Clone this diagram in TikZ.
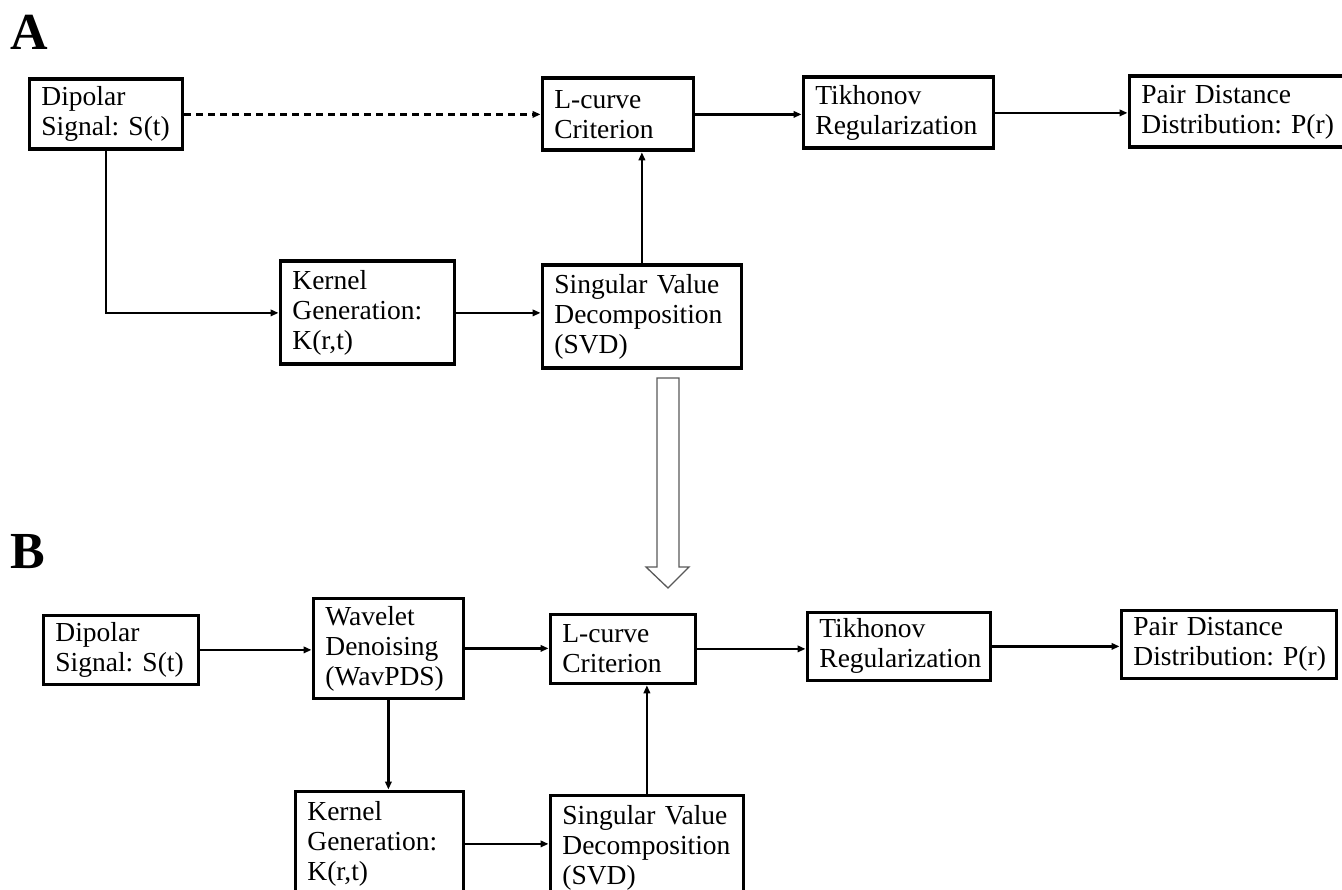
\documentclass[tikz,border=0pt]{standalone}
\usepackage{fontspec}
\setmainfont{Liberation Serif}
\usetikzlibrary{arrows.meta}
% one unbreakable line of box text
\newcommand{\boxline}[1]{\mbox{#1}}
\frenchspacing
\begin{document}
\begin{tikzpicture}[x=1pt,y=-1pt,
  blk/.style={draw, line width=3.8pt, inner xsep=12pt, inner ysep=0pt,
    align=left, anchor=north west,
    font=\fontsize{27.5}{30}\selectfont},
  conn/.style={line width=2.6pt, -{Triangle[length=8pt,width=6.5pt]}},
  dconn/.style={conn, dash pattern=on 7pt off 5pt},
  panel/.style={font=\fontsize{52}{52}\selectfont\bfseries, anchor=base west, inner sep=0pt},
  bigarrow/.style={draw=black!65, line width=1.3pt, fill=white}]
\useasboundingbox (0,0) rectangle (1342,890);

% panel letters
\node[panel] (labA) at (10,50) {A};
\node[panel] (labB) at (10,568) {B};

% ---- panel A ----
\node[blk, minimum width=153, minimum height=70, text width=129] (dipA) at (27.5,77.5) {\boxline{Dipolar}\\\boxline{Signal: S(t)}};
\node[blk, minimum width=151, minimum height=72, text width=127] (lcA) at (540.5,76.5) {\boxline{L-curve}\\\boxline{Criterion}};
\node[blk, minimum width=190, minimum height=71, text width=166] (tikA) at (801.5,75.5) {\boxline{Tikhonov}\\\boxline{Regularization}};
\node[blk, minimum width=214, minimum height=71, text width=190] (pairA) at (1127.5,74.5) {\boxline{Pair Distance}\\\boxline{Distribution: P(r)}};
\node[blk, minimum width=174, minimum height=103, text width=150] (kerA) at (278.5,259.5) {\boxline{Kernel}\\\boxline{Generation:}\\\boxline{K(r,t)}};
\node[blk, minimum width=199, minimum height=103, text width=175] (svdA) at (540.5,263.5) {\boxline{Singular Value}\\\boxline{Decomposition}\\\boxline{(SVD)}};

\draw[dconn] (dipA.east) -- (dipA.east -| lcA.west);
\draw[conn] (lcA.east) -- (lcA.east -| tikA.west);
\draw[conn] (tikA.east) -- (tikA.east -| pairA.west);
\draw[conn] (dipA.south) |- (kerA.west);
\draw[conn] (kerA.east) -- (kerA.east -| svdA.west);
\draw[conn] (svdA.north) -- (svdA.north |- lcA.south);

% transition arrow between the two schemes
\draw[bigarrow] (657,378) -- (679,378) -- (679,567) -- (689,567) -- (668,588)
  -- (646,567) -- (657,567) -- cycle;

% ---- panel B ----
\node[blk, minimum width=155, minimum height=69, text width=131] (dipB) at (41.5,613.5) {\boxline{Dipolar}\\\boxline{Signal: S(t)}};
\node[blk, minimum width=150, minimum height=100, text width=126] (wavB) at (311.5,596.5) {\boxline{Wavelet}\\\boxline{Denoising}\\\boxline{(WavPDS)}};
\node[blk, minimum width=145, minimum height=69, text width=121] (lcB) at (548.5,612.5) {\boxline{L-curve}\\\boxline{Criterion}};
\node[blk, minimum width=183, minimum height=68, text width=159] (tikB) at (805.5,610.5) {\boxline{Tikhonov}\\\boxline{Regularization}};
\node[blk, minimum width=215, minimum height=68, text width=191] (pairB) at (1119.5,608.5) {\boxline{Pair Distance}\\\boxline{Distribution: P(r)}};
\node[blk, minimum width=168, minimum height=105, text width=144] (kerB) at (293.5,789.5) {\boxline{Kernel}\\\boxline{Generation:}\\\boxline{K(r,t)}};
\node[blk, minimum width=193, minimum height=105, text width=169] (svdB) at (548.5,793.5) {\boxline{Singular Value}\\\boxline{Decomposition}\\\boxline{(SVD)}};

\draw[conn] (dipB.east) -- (dipB.east -| wavB.west);
\draw[conn] (wavB.east) -- (wavB.east -| lcB.west);
\draw[conn] (lcB.east) -- (lcB.east -| tikB.west);
\draw[conn] (tikB.east) -- (tikB.east -| pairB.west);
\draw[conn] (wavB.south) -- (wavB.south |- kerB.north);
\draw[conn] (kerB.east) -- (kerB.east -| svdB.west);
\draw[conn] (svdB.north) -- (svdB.north |- lcB.south);
\end{tikzpicture}
\end{document}
